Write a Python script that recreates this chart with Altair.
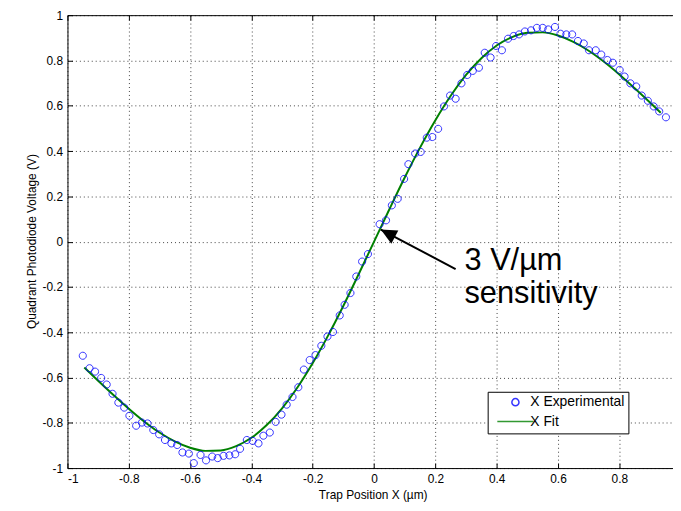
import altair as alt
import pandas as pd

# ---------------- data ----------------
exp_x = [-0.950, -0.928, -0.910, -0.890, -0.872, -0.853, -0.834, -0.815, -0.798, -0.776,
         -0.757, -0.739, -0.720, -0.701, -0.682, -0.661, -0.642, -0.625, -0.604, -0.588,
         -0.566, -0.548, -0.528, -0.510, -0.491, -0.472, -0.453, -0.437, -0.415, -0.396,
         -0.377, -0.361, -0.340, -0.321, -0.302, -0.285, -0.266, -0.247, -0.229, -0.210,
         -0.191, -0.172, -0.152, -0.134, -0.112, -0.096, -0.077, -0.058, -0.039, -0.020,
         0.018, 0.039, 0.058, 0.077, 0.098, 0.112, 0.134, 0.152, 0.172, 0.190,
         0.209, 0.228, 0.248, 0.266, 0.285, 0.304, 0.322, 0.342, 0.361, 0.380,
         0.398, 0.417, 0.437, 0.455, 0.473, 0.492, 0.512, 0.531, 0.550, 0.568,
         0.590, 0.608, 0.627, 0.646, 0.665, 0.684, 0.701, 0.723, 0.741, 0.761,
         0.779, 0.801, 0.817, 0.836, 0.855, 0.873, 0.893, 0.912, 0.930, 0.952]
exp_y = [-0.504, -0.559, -0.574, -0.602, -0.631, -0.672, -0.711, -0.733, -0.769, -0.813,
         -0.799, -0.803, -0.832, -0.851, -0.876, -0.891, -0.898, -0.931, -0.936, -0.978,
         -0.942, -0.966, -0.949, -0.956, -0.946, -0.944, -0.939, -0.915, -0.876, -0.880,
         -0.891, -0.857, -0.843, -0.796, -0.764, -0.720, -0.686, -0.643, -0.565, -0.523,
         -0.501, -0.460, -0.419, -0.399, -0.326, -0.279, -0.227, -0.154, -0.088, -0.055,
         0.077, 0.094, 0.160, 0.189, 0.277, 0.342, 0.389, 0.396, 0.459, 0.462,
         0.498, 0.597, 0.645, 0.631, 0.699, 0.736, 0.754, 0.768, 0.834, 0.813,
         0.864, 0.845, 0.896, 0.908, 0.915, 0.928, 0.933, 0.944, 0.944, 0.937,
         0.948, 0.918, 0.915, 0.915, 0.886, 0.875, 0.845, 0.845, 0.826, 0.802,
         0.790, 0.758, 0.729, 0.699, 0.685, 0.645, 0.622, 0.597, 0.575, 0.549]

fit_x = [-0.945, -0.90, -0.85, -0.80, -0.75, -0.70, -0.65, -0.60, -0.55, -0.50,
         -0.45, -0.40, -0.35, -0.30, -0.25, -0.20, -0.15, -0.10, -0.05, 0.0,
         0.05, 0.10, 0.15, 0.20, 0.25, 0.30, 0.35, 0.40, 0.45, 0.50,
         0.55, 0.60, 0.65, 0.70, 0.75, 0.80, 0.85, 0.90, 0.935]
fit_y = [-0.556, -0.614, -0.677, -0.738, -0.794, -0.843, -0.882, -0.910, -0.924, -0.922,
         -0.903, -0.866, -0.810, -0.736, -0.644, -0.536, -0.415, -0.283, -0.143, 0.0,
         0.143, 0.283, 0.415, 0.536, 0.644, 0.736, 0.810, 0.866, 0.903, 0.922,
         0.924, 0.910, 0.882, 0.843, 0.794, 0.738, 0.677, 0.614, 0.569]

x_ticks = [-1, -0.8, -0.6, -0.4, -0.2, 0, 0.2, 0.4, 0.6, 0.8]
y_ticks = [-1, -0.8, -0.6, -0.4, -0.2, 0, 0.2, 0.4, 0.6, 0.8, 1]
series_names = ["X Experimental", "X Fit"]
series_colors = ["#0000ff", "#008000"]

annot_text = ["3 V/\u00b5m", "sensitivity"]
annot_x = [0.295, 0.295]
annot_y = [-0.124, -0.270]
arrow_tail = [0.266, -0.121]
arrow_tip = [0.022, 0.053]

x_title = "Trap Position X (\u00b5m)"
y_title = "Quadrant Photodiode Voltage (V)"

# ---------------- tables ----------------
exp_df = pd.DataFrame({"x": exp_x, "y": exp_y, "series": series_names[0]})
fit_df = pd.DataFrame({"x": fit_x, "y": fit_y, "series": series_names[1]})
annot_df = pd.DataFrame({"x": annot_x, "y": annot_y, "t": annot_text})
arrow_df = pd.DataFrame({"x": [arrow_tail[0]], "y": [arrow_tail[1]],
                         "x2": [arrow_tip[0]], "y2": [arrow_tip[1]]})
tip_df = pd.DataFrame({"x": [arrow_tip[0]], "y": [arrow_tip[1]]})

FONT = "Liberation Sans"
SYM = 196  # symbol size -> 14px unit box
CIRCLE = "M-0.514,0A0.514,0.514 0 1,0 0.514,0A0.514,0.514 0 1,0 -0.514,0Z"
HLINE = "M-2.61,0L2.61,0"
ARROWHEAD = "M0,0L-0.47,1L0.47,1Z"

xs = alt.Scale(domain=[-1, 0.975], nice=False, zero=False)
ys = alt.Scale(domain=[-1, 1], nice=False, zero=False)
cs = alt.Scale(domain=series_names, range=series_colors)
ss = alt.Scale(domain=series_names, range=[CIRCLE, HLINE])

lbl = "toString(datum.value)"

main_x_axis = alt.Axis(orient="bottom", values=x_ticks, labelExpr=lbl, ticks=False,
                       domain=True, domainColor="#000", domainWidth=1,
                       grid=True, gridColor="#000", gridOpacity=0.75, gridDash=[1, 3],
                       labelPadding=6, labelFont=FONT, labelFontSize=12, labelColor="#000",
                       title=x_title, titleFont=FONT, titleFontSize=12, titleFontWeight="normal",
                       titleColor="#000", titleX=308, titleY=27, titleBaseline="middle")
main_y_axis = alt.Axis(orient="left", values=y_ticks, labelExpr=lbl, ticks=False,
                       domain=True, domainColor="#000", domainWidth=1,
                       grid=True, gridColor="#000", gridOpacity=0.75, gridDash=[1, 3],
                       labelPadding=5, labelFont=FONT, labelFontSize=12, labelColor="#000",
                       title=y_title, titleFont=FONT, titleFontSize=12, titleFontWeight="normal",
                       titleColor="#000", titleX=-36, titleY=228, titleBaseline="middle",
                       titleAngle=270)

def tick_axis(orient, vals):
    return alt.Axis(orient=orient, values=vals, labels=False, domain=False, grid=False,
                    ticks=True, tickSize=5, tickColor="#000", tickWidth=1, offset=-5, title=None)

fit_layer = alt.Chart(fit_df).mark_line(strokeWidth=2, interpolate="monotone").encode(
    x=alt.X("x:Q", scale=xs, axis=main_x_axis),
    y=alt.Y("y:Q", scale=ys, axis=main_y_axis),
    color=alt.Color("series:N", scale=cs, legend=alt.Legend(title=None)),
)

exp_layer = alt.Chart(exp_df).mark_point(filled=False, size=SYM, strokeWidth=1, opacity=0.8).encode(
    x=alt.X("x:Q", scale=xs, axis=tick_axis("bottom", x_ticks)),
    y=alt.Y("y:Q", scale=ys, axis=tick_axis("left", y_ticks)),
    color=alt.Color("series:N", scale=cs, legend=alt.Legend(title=None)),
    shape=alt.Shape("series:N", scale=ss, legend=alt.Legend(title=None)),
)

top_border = alt.Chart(fit_df).mark_point(opacity=0).encode(
    x=alt.X("x:Q", scale=xs, axis=alt.Axis(orient="top", values=x_ticks, labels=False,
                                           ticks=False, grid=False, domain=True,
                                           domainColor="#000", domainWidth=1, title=None)),
    y=alt.Y("y:Q", scale=ys, axis=None),
)

top_ticks = alt.Chart(fit_df).mark_point(opacity=0).encode(
    x=alt.X("x:Q", scale=xs, axis=tick_axis("top", x_ticks)),
    y=alt.Y("y:Q", scale=ys, axis=None),
)

arrow_line = alt.Chart(arrow_df).mark_rule(color="#000", strokeWidth=2).encode(
    x=alt.X("x:Q", scale=xs, axis=None), y=alt.Y("y:Q", scale=ys, axis=None),
    x2="x2:Q", y2="y2:Q",
)

arrow_head = alt.Chart(tip_df).mark_point(shape=ARROWHEAD, size=1024, filled=True,
                                          color="#000", opacity=1, angle=298).encode(
    x=alt.X("x:Q", scale=xs, axis=None), y=alt.Y("y:Q", scale=ys, axis=None),
)

annot = alt.Chart(annot_df).mark_text(align="left", baseline="alphabetic", font=FONT,
                                      fontSize=31, color="#000").encode(
    x=alt.X("x:Q", scale=xs, axis=None), y=alt.Y("y:Q", scale=ys, axis=None),
    text="t:N",
)

chart = alt.layer(fit_layer, exp_layer, top_border, top_ticks, arrow_line, arrow_head, annot).resolve_axis(
    x="independent", y="independent"
).properties(
    width=611, height=457,
    autosize=alt.AutoSizeParams(type="none"),
    padding={"left": 60, "top": 5, "right": 0, "bottom": 33},
    background="white",
).configure_view(
    stroke=None
).configure_legend(
    orient="none", legendX=424, legendY=380,
    strokeColor="#000", fillColor="white", padding=4, cornerRadius=0,
    labelFont=FONT, labelFontSize=14, labelColor="#000",
    symbolSize=SYM, symbolStrokeWidth=1.5, symbolOffset=16, labelOffset=7,
    clipHeight=13, rowPadding=4.6,
)

chart.save("out.html", embed_options={"renderer": "svg", "actions": False})
